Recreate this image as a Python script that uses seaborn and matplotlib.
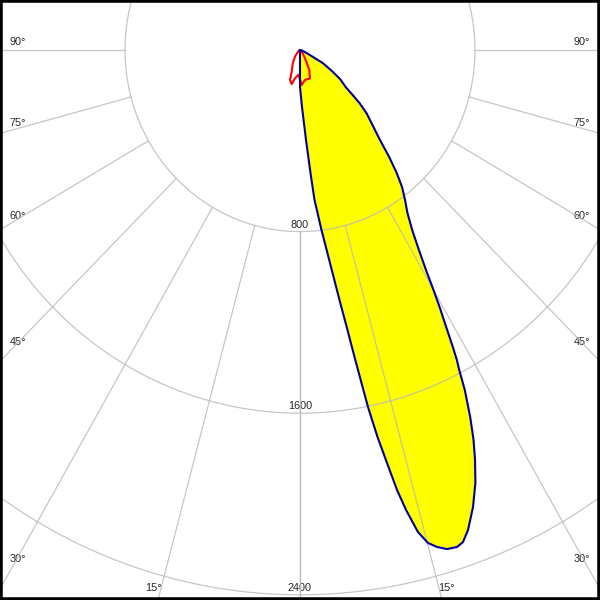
import numpy as np
import pandas as pd
import matplotlib
matplotlib.use("Agg")
import matplotlib.pyplot as plt
import seaborn as sns

blue_angles = [-90, -2.5, 0, 2.08, 3.96, 5.06, 5.73, 6.46, 7.07, 8.31, 9.31, 9.98, 10.44,
               10.85, 11.18, 11.74, 12.33, 12.89, 13.45, 14.25, 15.08, 15.96, 17.0, 18.15,
               18.97, 19.96, 21.45, 22.8, 23.9, 24.8, 25.7, 26.7, 27.3, 27.7, 28.1, 28.8,
               29.4, 30.0, 30.7, 31.7, 32.9, 34.4, 36.0, 37.7, 39.2, 40.8, 42.7, 45.0,
               47.5, 49.3, 50.5, 52.0, 55.0, 57.5, 61.0, 64.0, 70.0, 80.0, 90.0]
blue_cd = [0, 0, 163, 251, 397, 544, 664, 731, 799, 948, 1116, 1252, 1375,
           1494, 1603, 1741, 1862, 1988, 2083, 2191, 2249, 2277, 2299, 2304,
           2292, 2250, 2163, 2069, 1975, 1891, 1794, 1677, 1588, 1543, 1484, 1378,
           1301, 1220, 1130, 1033, 944, 869, 817, 763, 700, 626, 539, 470,
           413, 360, 313, 265, 225, 175, 120, 50, 20, 5, 0]

red_angles = [-90, -60, -38, -30, -21.6, -19.1, -14.2, -10.4, -4, 0, 2.9, 9.8, 20, 25.8, 32, 40, 60, 90]
red_cd = [0, 8, 37, 65, 103, 140, 155, 127, 110, 130, 154, 134, 133, 98, 43, 20, 5, 0]

ring_values = [800, 1600, 2400]
ray_angles = [0, 15, 30, 45, 60, 75, 90]

# escala del dibujo (cd por px en x e y)
sx = 800 / 175
sy = 800 / 181.6


def polar_xy(ang, r):
    a = np.radians(np.asarray(ang, dtype=float))
    r = np.asarray(r, dtype=float)
    return r * np.sin(a), -r * np.cos(a)


def px(x, y):
    # pixel -> coordenadas de datos
    return (x - 300) * sx, -(y - 50) * sy


sns.set_style("white")
plt.rcParams['font.family'] = ['Liberation Sans', 'DejaVu Sans']

fig = plt.figure(figsize=(6, 6), dpi=100)
ax = fig.add_axes([0, 0, 1, 1])

# curva C0-C180 rellena
bx, by = polar_xy(blue_angles, blue_cd)
ax.fill(bx, by, color="#ffff00", zorder=1, lw=0)

# rejilla
gcol = "#b8b8b8"
t = np.linspace(0, 2 * np.pi, 720)
for v in ring_values:
    ax.plot(v * np.sin(t), v * np.cos(t), color=gcol, alpha=0.8, lw=0.9, zorder=2)
for a in ray_angles:
    for s in (-1, 1):
        rx, ry = polar_xy([s * a, s * a], [800, 4000])
        ax.plot(rx, ry, color=gcol, alpha=0.8, lw=0.9, zorder=2)

# etiquetas de los anillos
for v in ring_values:
    ax.text(0, -v + 7 * sy, str(v), ha="center", va="center", fontsize=7.8, zorder=1.5)

# etiquetas de angulos
for a in ray_angles[1:]:
    ar = np.radians(a)
    for s in (-1, 1):
        xpix = 18 if s < 0 else 582
        ypix = 50 + (282 / np.tan(ar)) * (sx / sy) if a < 90 else 50
        if ypix < 575:
            off = -2 + (a - 30) / 6
            tx, ty = px(xpix, ypix - off)
        else:
            ybot = 588
            xr = 300 + s * (ybot - 50) * (sy / sx) * np.tan(ar)
            tx, ty = px(xr + s * 8, ybot)
        ax.text(tx, ty, f"{a}°", ha="center", va="center", fontsize=7.8, zorder=1.5)

rx, ry = polar_xy(red_angles, red_cd)
sns.lineplot(x=rx, y=ry, sort=False, estimator=None, color="#ff0000", lw=1.5, ax=ax, zorder=3)
sns.lineplot(x=bx, y=by, sort=False, estimator=None, color="#0000a0", lw=1.5, ax=ax, zorder=4)

ax.set_xlim(-300 * sx, 300 * sx)
ax.set_ylim(-550 * sy, 50 * sy)
ax.set_xticks([])
ax.set_yticks([])
for sp in ax.spines.values():
    sp.set_color("black")
    sp.set_linewidth(4)

fig.savefig("out.png", dpi=100)
